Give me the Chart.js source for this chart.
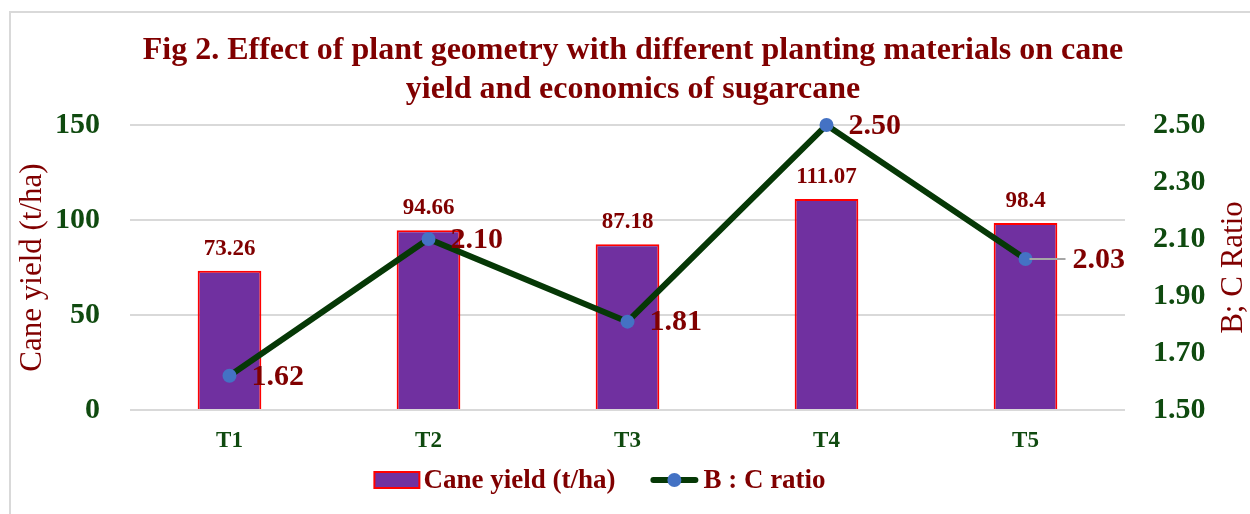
<!DOCTYPE html>
<html><head><meta charset="utf-8">
<script src="https://cdn.jsdelivr.net/npm/chart.js@4.4.1/dist/chart.umd.min.js"></script>
<style>
html,body{margin:0;padding:0;background:#fff;}
#wrap{position:relative;width:1250px;height:514px;overflow:hidden;}
#frame{position:absolute;left:9px;top:11px;width:1300px;height:600px;border:2px solid #d9d9d9;box-sizing:border-box;}
canvas{position:absolute;left:0;top:0;}
</style></head><body>
<div id="wrap"><div id="frame"></div><canvas id="c" width="1250" height="514"></canvas></div>
<script>
const categories = ['T1', 'T2', 'T3', 'T4', 'T5'];
const caneYield = [73.26, 94.66, 87.18, 111.07, 98.4];
const caneYieldLabels = ['73.26', '94.66', '87.18', '111.07', '98.4'];
const bcRatio = [1.62, 2.10, 1.81, 2.50, 2.03];
const leftTicks = [0, 50, 100, 150];
const rightTicks = [1.50, 1.70, 1.90, 2.10, 2.30, 2.50];
const titleLines = ['Fig 2. Effect of plant geometry with different planting materials on cane', 'yield and economics of sugarcane'];
const seriesNames = ['Cane yield (t/ha)', 'B : C ratio'];

const SERIF = '"Liberation Serif", "Times New Roman", serif';
const DARKRED = '#800000';
const GREEN = '#0f4a0f';
const BAR_FILL = '#7030A0', BAR_BORDER = '#FF0000';
const LINE_COLOR = '#063806', POINT_COLOR = '#4472C4';

const labelPlugin = {
  id: 'valueLabels',
  afterDatasetsDraw(chart) {
    const ctx = chart.ctx;
    ctx.save();
    ctx.fillStyle = DARKRED;
    ctx.font = 'bold 23px ' + SERIF;
    ctx.textAlign = 'center';
    ctx.textBaseline = 'alphabetic';
    chart.getDatasetMeta(0).data.forEach((el, i) => {
      ctx.fillText(caneYieldLabels[i], el.x, el.y - 16);
    });
    ctx.font = 'bold 30px ' + SERIF;
    ctx.textAlign = 'left';
    ctx.textBaseline = 'middle';
    chart.getDatasetMeta(1).data.forEach((el, i) => {
      let x = el.x + 22;
      if (i === 4) {
        ctx.strokeStyle = '#a6a6a6'; ctx.lineWidth = 2;
        ctx.beginPath(); ctx.moveTo(el.x + 4, el.y); ctx.lineTo(el.x + 40, el.y); ctx.stroke();
        x = el.x + 47;
      }
      ctx.fillText(bcRatio[i].toFixed(2), x, el.y + 1);
    });
    ctx.restore();
  },
  afterDraw(chart) {
    const ctx = chart.ctx;
    ctx.save();
    // right axis title (reads bottom-to-top)
    const s = chart.scales.y1;
    ctx.save();
    ctx.translate(1234, (s.top + s.bottom) / 2);
    ctx.rotate(-Math.PI / 2);
    ctx.font = '31px ' + SERIF;
    ctx.fillStyle = DARKRED;
    ctx.textAlign = 'center';
    ctx.textBaseline = 'middle';
    ctx.fillText('B; C Ratio', 0, 0);
    ctx.restore();
    // legend
    ctx.font = 'bold 27px ' + SERIF;
    const w1 = ctx.measureText(seriesNames[0]).width;
    const w2 = ctx.measureText(seriesNames[1]).width;
    const boxW = 45, lineW = 48;
    const total = boxW + 4 + w1 + 35 + lineW + 5 + w2;
    const cy = 480;
    let x = 600 - total / 2;
    ctx.fillStyle = BAR_FILL; ctx.fillRect(x, cy - 8, boxW, 16);
    ctx.strokeStyle = BAR_BORDER; ctx.lineWidth = 2; ctx.strokeRect(x, cy - 8, boxW, 16);
    x += boxW + 4;
    ctx.fillStyle = DARKRED; ctx.textAlign = 'left'; ctx.textBaseline = 'middle';
    ctx.fillText(seriesNames[0], x, cy + 1);
    x += w1 + 35;
    ctx.strokeStyle = LINE_COLOR; ctx.lineWidth = 6; ctx.lineCap = 'round';
    ctx.beginPath(); ctx.moveTo(x + 3, cy); ctx.lineTo(x + lineW - 3, cy); ctx.stroke();
    ctx.fillStyle = POINT_COLOR; ctx.beginPath(); ctx.arc(x + lineW / 2, cy, 7, 0, Math.PI * 2); ctx.fill();
    x += lineW + 5;
    ctx.fillStyle = DARKRED;
    ctx.fillText(seriesNames[1], x, cy + 1);
    ctx.restore();
  }
};

const titleShift = {
  id: 'titleShift',
  afterLayout(chart) {
    if (chart.titleBlock) { chart.titleBlock.left += 8; chart.titleBlock.right += 8; }
  }
};

new Chart(document.getElementById('c'), {
  data: {
    labels: categories,
    datasets: [
      {
        type: 'bar', label: seriesNames[0], data: caneYield, yAxisID: 'y', order: 1,
        backgroundColor: BAR_FILL, borderColor: BAR_BORDER, borderWidth: 2,
        barPercentage: 0.32, categoryPercentage: 1
      },
      {
        type: 'line', label: seriesNames[1], data: bcRatio, yAxisID: 'y1', order: 0, clip: false,
        borderColor: LINE_COLOR, borderWidth: 6, tension: 0,
        pointBackgroundColor: POINT_COLOR, pointBorderColor: POINT_COLOR, pointRadius: 7, pointBorderWidth: 0
      }
    ]
  },
  options: {
    responsive: false, animation: false, devicePixelRatio: 1,
    layout: { padding: 0 },
    plugins: {
      tooltip: { enabled: false },
      legend: { display: false },
      title: {
        display: true, text: titleLines, color: DARKRED,
        font: { family: SERIF, size: 32, weight: 'bold', lineHeight: 1.2 },
        padding: { top: 32, bottom: 16.2 }
      }
    },
    scales: {
      x: {
        grid: { display: false }, border: { display: false },
        ticks: { color: GREEN, padding: 9, font: { family: SERIF, size: 23, weight: 'bold' } },
        afterFit: s => { s.height = 104; }
      },
      y: {
        position: 'left', min: 0, max: 150,
        afterBuildTicks: s => { s.ticks = leftTicks.map(v => ({ value: v })); },
        grid: { color: '#d9d9d9', lineWidth: 2, drawTicks: false }, border: { display: false },
        ticks: { color: GREEN, padding: 30, font: { family: SERIF, size: 30, weight: 'bold' } },
        title: {
          display: true, text: 'Cane yield (t/ha)', color: DARKRED,
          font: { family: SERIF, size: 31, lineHeight: 1 }, padding: { top: 17, bottom: 0 }
        },
        afterFit: s => { s.width = 130; }
      },
      y1: {
        position: 'right', min: 1.5, max: 2.5,
        afterBuildTicks: s => { s.ticks = rightTicks.map(v => ({ value: v })); },
        grid: { display: false, drawTicks: false }, border: { display: false },
        ticks: { color: GREEN, padding: 28, font: { family: SERIF, size: 30, weight: 'bold' },
          callback: v => Number(v).toFixed(2) },
        afterFit: s => { s.width = 125; }
      }
    }
  },
  plugins: [labelPlugin, titleShift]
});
</script>
</body></html>
